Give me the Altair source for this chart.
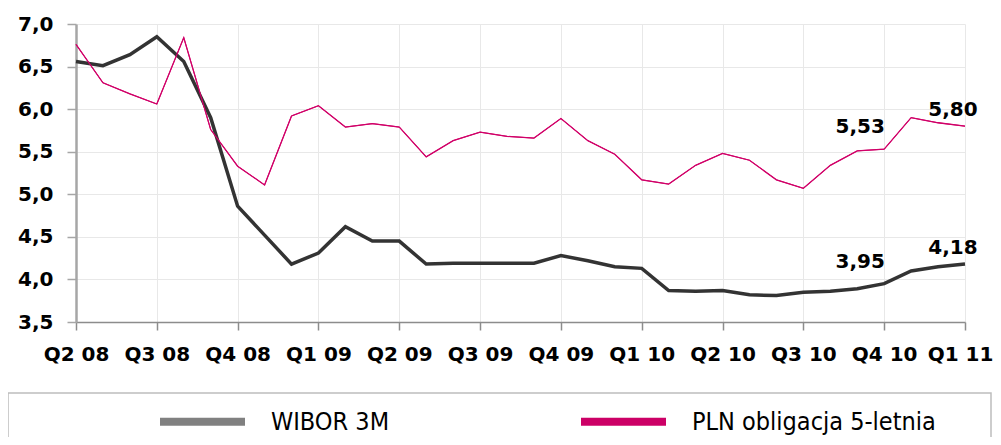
import altair as alt
import pandas as pd

quarters = ["Q2 08", "Q3 08", "Q4 08", "Q1 09", "Q2 09", "Q3 09",
            "Q4 09", "Q1 10", "Q2 10", "Q3 10", "Q4 10", "Q1 11"]
series_names = ["WIBOR 3M", "PLN obligacja 5-letnia"]

wibor = [6.56, 6.51, 6.64, 6.85, 6.56, 5.90, 4.86, 4.52, 4.18, 4.31,
         4.62, 4.45, 4.45, 4.18, 4.19, 4.19, 4.19, 4.19, 4.28, 4.22,
         4.15, 4.13, 3.87, 3.86, 3.87, 3.82, 3.81, 3.85, 3.86, 3.89,
         3.95, 4.10, 4.15, 4.18]
pln = [6.76, 6.31, 6.18, 6.06, 6.84, 5.76, 5.33, 5.11, 5.92, 6.04,
       5.79, 5.83, 5.79, 5.44, 5.63, 5.73, 5.68, 5.66, 5.89, 5.63,
       5.47, 5.17, 5.12, 5.34, 5.48, 5.40, 5.17, 5.07, 5.34, 5.51,
       5.53, 5.90, 5.84, 5.80]

label_idx = [30, 33]
wibor_labels = [3.95, 4.18]
pln_labels = [5.53, 5.80]

months = list(range(len(wibor)))
df_w = pd.DataFrame({"m": months, "v": wibor, "s": series_names[0]})
df_p = pd.DataFrame({"m": months, "v": pln, "s": series_names[1]})
df_all = pd.concat([df_w, df_p], ignore_index=True)

def lab_df(i):
    rows = []
    for vals in (wibor_labels, pln_labels):
        rows.append({"m": label_idx[i], "v": vals[i],
                     "t": f"{vals[i]:.2f}".replace(".", ",")})
    return pd.DataFrame(rows)

q_js = "[" + ",".join(f"'{q}'" for q in quarters) + "]"

x = alt.X("m:Q",
          scale=alt.Scale(domain=[0, 33], nice=False, zero=False),
          axis=alt.Axis(values=list(range(0, 34, 3)),
                        labelExpr=f"{q_js}[round(datum.value/3)]",
                        title=None, grid=True, gridColor="#e8e8e8",
                        domainColor="#8c8c8c", domainWidth=1.5,
                        tickColor="#8c8c8c", tickSize=8, tickWidth=1.5,
                        labelFont="DejaVu Sans", labelFontWeight="bold",
                        labelFontSize=20, labelColor="#000000",
                        labelPadding=14, labelFlush=False,
                        labelOverlap=False,
                        labelOffset={"condition": {"test": "datum.value == 33", "value": -5},
                                     "value": 0}))
y = alt.Y("v:Q",
          scale=alt.Scale(domain=[3.5, 7.0], nice=False, zero=False),
          axis=alt.Axis(values=[3.5, 4.0, 4.5, 5.0, 5.5, 6.0, 6.5, 7.0],
                        labelExpr="replace(format(datum.value, '.1f'), '.', ',')",
                        title=None, grid=True, gridColor="#e8e8e8",
                        domainColor="#a6a6a6", domainWidth=2.5,
                        tickColor="#a6a6a6", tickSize=9, tickWidth=1.5,
                        labelFont="DejaVu Sans", labelFontWeight="bold",
                        labelFontSize=20, labelColor="#000000",
                        labelPadding=14))

line_scale = alt.Scale(domain=series_names, range=["#333333", "#D10068"])
legend_scale = alt.Scale(domain=series_names, range=["#808080", "#CC0066"])
legend = alt.Legend(title=None, orient="none", legendX=80, legendY=351,
                    direction="horizontal", symbolType="stroke",
                    symbolSize=7225, symbolStrokeWidth=8,
                    labelFont="DejaVu Sans Condensed, Liberation Sans Narrow, Noto Sans, sans-serif",
                    labelFontSize=25, labelColor="#000000", labelOffset=22,
                    labelLimit=600, columnPadding=175, padding=0)

box = alt.Chart(pd.DataFrame({"b": [0]})).mark_rect(
    filled=False, stroke="#bdbdbd", strokeWidth=1.5
).encode(x=alt.value(-68), x2=alt.value(915), y=alt.value(369), y2=alt.value(460))

# thin lines underneath carry the legend (gray / magenta swatches)
legend_lines = alt.Chart(df_all).mark_line(strokeWidth=1).encode(
    x=x, y=y, detail="s:N",
    stroke=alt.Stroke("s:N", scale=legend_scale, legend=legend))

color = alt.Color("s:N", scale=line_scale, legend=None)
line_w = alt.Chart(df_w).mark_line(strokeWidth=3.5).encode(x=x, y=y, color=color)
line_p = alt.Chart(df_p).mark_line(strokeWidth=1.3).encode(x=x, y=y, color=color)

txt_style = dict(font="DejaVu Sans", fontWeight="bold", fontSize=20,
                 baseline="alphabetic", align="center", color="#000000")
t1 = alt.Chart(lab_df(0)).mark_text(dx=-24, dy=-16, **txt_style).encode(x=x, y=y, text="t:N")
t2 = alt.Chart(lab_df(1)).mark_text(dx=-12, dy=-10, **txt_style).encode(x=x, y=y, text="t:N")

chart = alt.layer(box, legend_lines, line_w, line_p, t1, t2).properties(
    width=889, height=298,
    autosize=alt.AutoSizeParams(type="none"),
    padding={"left": 68, "top": 16, "right": 28, "bottom": 115},
).configure_view(strokeWidth=0)

chart.save("out.html", embed_options={"renderer": "svg", "actions": False})
